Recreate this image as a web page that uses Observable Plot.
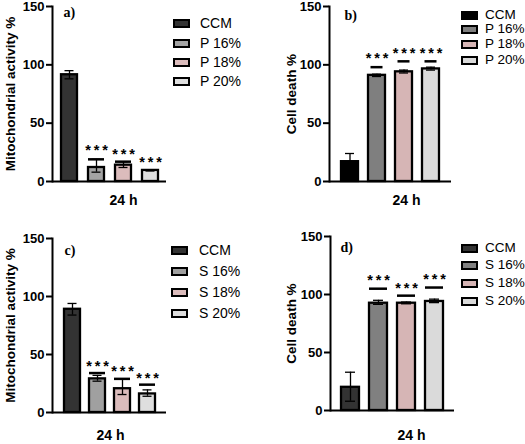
<!DOCTYPE html>
<html>
<head>
<meta charset="utf-8">
<script src="https://cdn.jsdelivr.net/npm/d3@7"></script>
<script src="https://cdn.jsdelivr.net/npm/@observablehq/plot@0.6"></script>
<style>
  html, body { margin: 0; padding: 0; background: #fff; }
  #root { position: relative; width: 525px; height: 444px; overflow: hidden; font-family: "Liberation Sans", Arial, sans-serif; }
  .panel { position: absolute; }
  .lg-row { position: absolute; display: flex; align-items: center; white-space: nowrap; }
  .sw { box-sizing: border-box; border: 2px solid #000; }
</style>
</head>
<body>
<div id="root"></div>
<script>
// ---- data ----
const groupsP = ["CCM", "P 16%", "P 18%", "P 20%"];
const groupsS = ["CCM", "S 16%", "S 18%", "S 20%"];
const yTicks = [0, 50, 100, 150];

// a) Mitochondrial activity, P
const aMean = [91.5, 12, 14, 9.5];
const aLo   = [88, 8, 12, 9];
const aHi   = [95, 19, 17, 10];
const aSig  = [null, 19, 17, null];
const aStar = [null, 29, 26, 19];

// b) Cell death, P
const bMean = [17, 91, 94, 96.5];
const bLo   = [17, 90, 93, 95.5];
const bHi   = [24, 92, 95.5, 98];
const bSig  = [null, 98, 103, 103];
const bStar = [null, 108, 112, 112];

// c) Mitochondrial activity, S
const cMean = [89, 29, 20.5, 16];
const cLo   = [84, 27, 15.5, 14];
const cHi   = [94, 32, 29, 19.5];
const cSig  = [null, 34, 29, 24];
const cStar = [null, 42, 38, 32];

// d) Cell death, S
const dMean = [20, 92.5, 92.5, 94];
const dLo   = [8, 91.5, 92, 93];
const dHi   = [33, 95, 93.5, 96];
const dSig  = [null, 105, 99, 106];
const dStar = [null, 115, 108, 116];

const colorsA = ["#333333", "#a3a3a3", "#dbbcbc", "#dedede"];
const colorsB = ["#000000", "#7f7f7f", "#d6b5b5", "#dadada"];
const colorsC = ["#333333", "#a0a0a0", "#dbbcbc", "#dedede"];
const colorsD = ["#333333", "#808080", "#d6b5b5", "#dadada"];

const starLabel = "*\u2009*\u2009*";

// ---- layout ----
const panels = [
  {tag: "a)", groups: groupsP, mean: aMean, lo: aLo, hi: aHi, sig: aSig, star: aStar, colors: colorsA,
   ylabel: "Mitochondrial activity %", left: 0, top: 0, w: 262, mL: 52, mR: 96, mT: 6, mB: 41,
   pI: 0.41, pO: 0.27, tagDx: 11, tagDy: 6, xlDx: 14, xlDy: 19, ylDx: -42, capInset: 3.5, sigInset: 0,
   lg: {x: 173, rows: [23, 43, 62, 81], tx: 200, fs: 14}},
  {tag: "b)", groups: groupsP, mean: bMean, lo: bLo, hi: bHi, sig: bSig, star: bStar, colors: colorsB,
   ylabel: "Cell death %", left: 262, top: 0, w: 263, mL: 67, mR: 74, mT: 6, mB: 41,
   pI: 0.36, pO: 0.36, tagDx: 15, tagDy: 9, xlDx: 16, xlDy: 19, ylDx: -38, capInset: 4, sigInset: 2.5,
   lg: {x: 461, rows: [15, 29, 44, 60], tx: 485, fs: 13.5}},
  {tag: "c)", groups: groupsS, mean: cMean, lo: cLo, hi: cHi, sig: cSig, star: cStar, colors: colorsC,
   ylabel: "Mitochondrial activity %", left: 0, top: 222, w: 262, mL: 52, mR: 96, mT: 16, mB: 32,
   pI: 0.37, pO: 0.43, tagDx: 12, tagDy: 12, xlDx: 1, xlDy: 23, ylDx: -42, capInset: 3.5, sigInset: 0,
   lg: {x: 171, rows: [250, 271, 292, 313], tx: 199, fs: 14}},
  {tag: "d)", groups: groupsS, mean: dMean, lo: dLo, hi: dHi, sig: dSig, star: dStar, colors: colorsD,
   ylabel: "Cell death %", left: 262, top: 222, w: 263, mL: 68, mR: 71, mT: 14, mB: 34,
   pI: 0.35, pO: 0.37, tagDx: 10, tagDy: 11, xlDx: 19, xlDy: 25, ylDx: -39, capInset: 4, sigInset: 0,
   lg: {x: 461, rows: [248, 265, 283, 301], tx: 485, fs: 13.5}}
];

const root = document.getElementById("root");
const FONT = "Liberation Sans, Arial, sans-serif";

for (const p of panels) {
  const data = p.groups.map((g, i) => ({g, mean: p.mean[i], lo: p.lo[i], hi: p.hi[i], sig: p.sig[i], star: p.star[i]}));
  const sigData = data.filter(d => d.sig != null);
  const starData = data.filter(d => d.star != null);
  const chart = Plot.plot({
    width: p.w,
    height: 222,
    marginLeft: p.mL, marginRight: p.mR, marginTop: p.mT, marginBottom: p.mB,
    style: {fontFamily: FONT, color: "#000", background: "transparent", overflow: "visible"},
    x: {domain: p.groups, paddingInner: p.pI, paddingOuter: p.pO, axis: null},
    y: {domain: [0, 150], axis: null},
    color: {domain: p.groups, range: p.colors},
    marks: [
      Plot.barY(data, {x: "g", y: "mean", fill: "g", stroke: "#000", strokeWidth: 2.3}),
      Plot.ruleX(data, {x: "g", y1: "lo", y2: "hi", stroke: "#000", strokeWidth: 1.3}),
      Plot.tickY(data, {x: "g", y: "hi", stroke: "#000", strokeWidth: 1.3, insetLeft: p.capInset, insetRight: p.capInset}),
      Plot.tickY(data, {x: "g", y: "lo", stroke: "#000", strokeWidth: 1.3, insetLeft: p.capInset, insetRight: p.capInset}),
      Plot.tickY(sigData, {x: "g", y: "sig", stroke: "#000", strokeWidth: 2.5, insetLeft: p.sigInset, insetRight: p.sigInset}),
      Plot.text(starData, {x: "g", y: "star", text: () => starLabel, fontSize: 14.5, fontWeight: "bold", fontFamily: FONT, dy: 3, lineAnchor: "middle", fill: "#000"}),
      Plot.axisY({ticks: yTicks, tickSize: 6, tickPadding: 2, strokeWidth: 2, fontSize: 13, fontWeight: "bold", label: null}),
      Plot.text([p.ylabel], {frameAnchor: "left", rotate: -90, dx: p.ylDx, lineAnchor: "middle", textAnchor: "middle",
        fontFamily: FONT, fontWeight: "bold", fontSize: 13.5, fill: "#000"}),
      Plot.frame({anchor: "left", stroke: "#000", strokeWidth: 2}),
      Plot.ruleY([0], {stroke: "#000", strokeWidth: 2}),
      Plot.text([p.tag], {frameAnchor: "top-left", dx: p.tagDx, dy: p.tagDy, textAnchor: "start", lineAnchor: "middle",
        fontFamily: "Liberation Serif, Times New Roman, serif", fontWeight: "bold", fontSize: 14, fill: "#000"}),
      Plot.text(["24 h"], {frameAnchor: "bottom", dx: p.xlDx, dy: p.xlDy, lineAnchor: "middle",
        fontFamily: FONT, fontWeight: "bold", fontSize: 14, fill: "#000"})
    ]
  });
  chart.classList.add("panel");
  chart.style.left = p.left + "px";
  chart.style.top = p.top + "px";
  root.appendChild(chart);

  // legend
  p.groups.forEach((g, i) => {
    const row = document.createElement("div");
    row.className = "lg-row";
    row.style.left = p.lg.x + "px";
    row.style.top = (p.lg.rows[i] - 8) + "px";
    row.style.height = "16px";
    const sw = document.createElement("div");
    sw.className = "sw";
    sw.style.width = "17px";
    sw.style.height = "9px";
    sw.style.background = p.colors[i];
    const tx = document.createElement("div");
    tx.textContent = g;
    tx.style.position = "absolute";
    tx.style.left = (p.lg.tx - p.lg.x) + "px";
    tx.style.fontSize = p.lg.fs + "px";
    tx.style.lineHeight = "16px";
    tx.style.top = "0px";
    row.appendChild(sw);
    row.appendChild(tx);
    root.appendChild(row);
  });
}
</script>
</body>
</html>
